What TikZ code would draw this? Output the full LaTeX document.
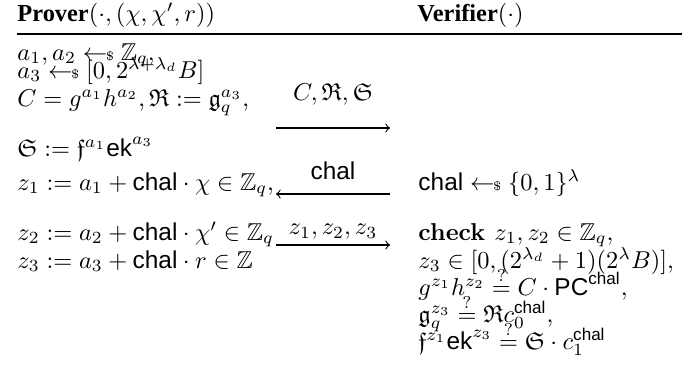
\documentclass[tikz,border=0pt]{standalone}
\usepackage{amsmath,amssymb}
\usepackage{fontspec}
\setsansfont{Liberation Sans}
\newfontfamily\headfont{Liberation Serif}
\usepackage{tikz}
\usetikzlibrary{positioning}

\newcommand{\chal}{\textsf{chal}}
\newcommand{\ek}{\textsf{ek}}
\newcommand{\PC}{\textsf{PC}}
\newcommand{\sample}{\mathrel{\leftarrow\!\!\mbox{\tiny\$}}}
\newcommand{\qeq}{\stackrel{?}{=}}

\begin{document}
\begin{tikzpicture}[x=0.41pt, y=-0.41pt,
    txt/.style={anchor=base west, inner sep=0pt},
    lbl/.style={inner sep=0pt},
    msg/.style={->, line width=0.45pt}]
        \useasboundingbox (0,0) rectangle (699,389);

        % parties
        \node[txt] (prover) at (17,21) {\headfont\bfseries Prover$(\cdot,(\chi,\chi',r))$};
        \node[txt] (verifier) at (417,21) {\headfont\bfseries Verifier$(\cdot)$};
        \coordinate (ruleL) at (17,34);
        \coordinate (ruleR) at (682,34);
        \draw[line width=0.6pt] (ruleL) -- (ruleR);

        % prover side
        \node[txt] (p1) at (17,60) {$a_1,a_2 \sample \mathbb{Z}_q,$};
        \node[txt] (p2) at (17,78) {$a_3 \sample [0,2^{\lambda+\lambda_d}B]$};
        \node[txt] (p3) at (17,106) {$C = g^{a_1}h^{a_2}, \mathfrak{R} := \mathfrak{g}_q^{a_3},$};
        \node[txt] (p4) at (17,156) {$\mathfrak{S} := \mathfrak{f}^{a_1}\ek^{a_3}$};
        \node[txt] (p5) at (17,190) {$z_1 := a_1 + \chal\cdot\chi \in \mathbb{Z}_q,$};
        \node[txt] (p6) at (17,240) {$z_2 := a_2 + \chal\cdot\chi' \in \mathbb{Z}_q$};
        \node[txt] (p7) at (17,268) {$z_3 := a_3 + \chal\cdot r \in \mathbb{Z}$};

        % verifier side
        \node[txt] (v1) at (418,190) {$\chal \sample \{0,1\}^{\lambda}$};
        \node[txt] (v2) at (418,240) {$\textbf{check } z_1,z_2 \in \mathbb{Z}_q,$};
        \node[txt] (v3) at (418,268) {$z_3 \in [0,(2^{\lambda_d}+1)(2^{\lambda}B)],$};
        \node[txt] (v4) at (418,295) {$g^{z_1}h^{z_2} \qeq C\cdot\PC^{\chal},$};
        \node[txt] (v5) at (418,322) {$\mathfrak{g}_q^{z_3} \qeq \mathfrak{R}c_0^{\chal},$};
        \node[txt] (v6) at (418,349) {$\mathfrak{f}^{z_1}\ek^{z_3} \qeq \mathfrak{S}\cdot c_1^{\chal}$};

        % messages
        \coordinate (m1s) at (276,128);
        \coordinate (m1e) at (390,128);
        \coordinate (m2s) at (390,194);
        \coordinate (m2e) at (276,194);
        \coordinate (m3s) at (276,245);
        \coordinate (m3e) at (390,245);

        \path[msg]
        (m1s) edge node[lbl, above=9pt] {$C,\mathfrak{R},\mathfrak{S}$} (m1e)
        (m2s) edge node[lbl, above=5.5pt] {\chal} (m2e)
        (m3s) edge node[lbl, above=2pt] {$z_1,z_2,z_3$} (m3e);

\end{tikzpicture}
\end{document}
